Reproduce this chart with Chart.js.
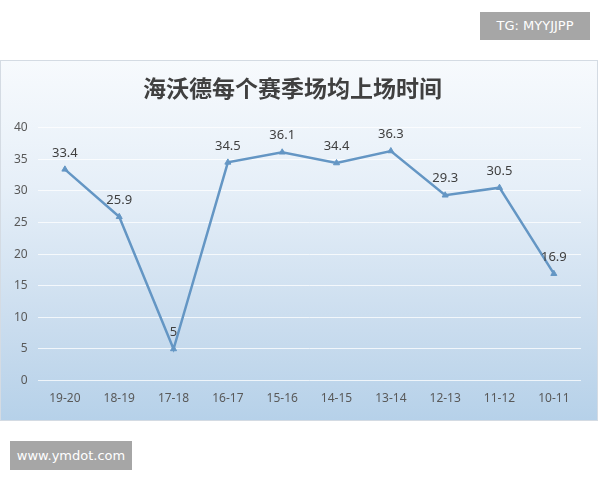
<!DOCTYPE html>
<html>
<head>
<meta charset="utf-8">
<script src="https://cdn.jsdelivr.net/npm/chart.js@4"></script>
<style>
  body { margin: 0; width: 600px; height: 480px; background: #fff; position: relative; overflow: hidden; }
  #panel {
    position: absolute; left: 0; top: 60px; width: 596px; height: 359px;
    border: 1px solid #d4dbe3;
    background: linear-gradient(to bottom, #f7fafd 0%, #e6eff8 35%, #c9dcee 75%, #b6d1e9 100%);
  }
  #tag {
    position: absolute; left: 480px; top: 12px; width: 110px; height: 28px;
    background: #a6a6a6; color: #fff; font: 13px "DejaVu Sans", sans-serif;
    line-height: 28px; text-align: center;
  }
  #site {
    position: absolute; left: 10px; top: 441px; width: 122px; height: 29px;
    background: #a6a6a6; color: #fff; font: 13px "DejaVu Sans", sans-serif;
    line-height: 29px; text-align: center;
  }
</style>
</head>
<body>
<div id="tag">TG: MYYJJPP</div>
<div id="panel"><canvas id="chart" width="596" height="359"></canvas></div>
<div id="site">www.ymdot.com</div>
<script>
// seasons, newest first as in the picture
const seasons = ["19-20", "18-19", "17-18", "16-17", "15-16", "14-15", "13-14", "12-13", "11-12", "10-11"];
const minutes = [33.4, 25.9, 5, 34.5, 36.1, 34.4, 36.3, 29.3, 30.5, 16.9];
const yTicks = [0, 5, 10, 15, 20, 25, 30, 35, 40];

// draw the value above each point
const valueLabels = {
    id: "valueLabels",
    afterDatasetsDraw(chart) {
        const ctx = chart.ctx;
        const meta = chart.getDatasetMeta(0);
        ctx.save();
        ctx.font = "13px 'Noto Sans'";
        ctx.fillStyle = "#404040";
        ctx.textAlign = "center";
        ctx.textBaseline = "bottom";
        meta.data.forEach((pt, i) => {
            ctx.fillText(String(minutes[i]), pt.x, pt.y - 10);
        });
        ctx.restore();
    }
};

const ctx = document.getElementById("chart").getContext("2d");
new Chart(ctx, {
    type: "line",
    data: {
        labels: seasons,
        datasets: [{
            data: minutes,
            borderColor: "#6496c4",
            backgroundColor: "#6496c4",
            borderWidth: 2.5,
            tension: 0,
            pointStyle: "triangle",
            pointRadius: 3.5,
            pointBorderWidth: 1
        }]
    },
    options: {
        responsive: false,
        animation: false,
        layout: { padding: { left: 3, right: 16, top: 0, bottom: 11 } },
        plugins: {
            legend: { display: false },
            tooltip: { enabled: false },
            title: {
                display: true,
                text: "海沃德每个赛季场均上场时间",
                color: "#404040",
                font: { family: "'Noto Sans CJK SC'", size: 23, weight: "bold" },
                padding: { top: 13, bottom: 26 }
            }
        },
        scales: {
            x: {
                offset: true,
                grid: { display: false },
                border: { display: false },
                ticks: { color: "#595959", font: { family: "'Noto Sans'", size: 12 }, maxRotation: 0, autoSkip: false, padding: 3 }
            },
            y: {
                min: 0, max: 40,
                afterBuildTicks: axis => { axis.ticks = yTicks.map(v => ({ value: v })); },
                grid: { color: "rgba(255,255,255,0.75)", lineWidth: 1, drawTicks: false },
                border: { display: false },
                ticks: { color: "#595959", font: { family: "'Noto Sans'", size: 12 }, padding: 10 }
            }
        }
    },
    plugins: [valueLabels]
});
</script>
</body>
</html>
